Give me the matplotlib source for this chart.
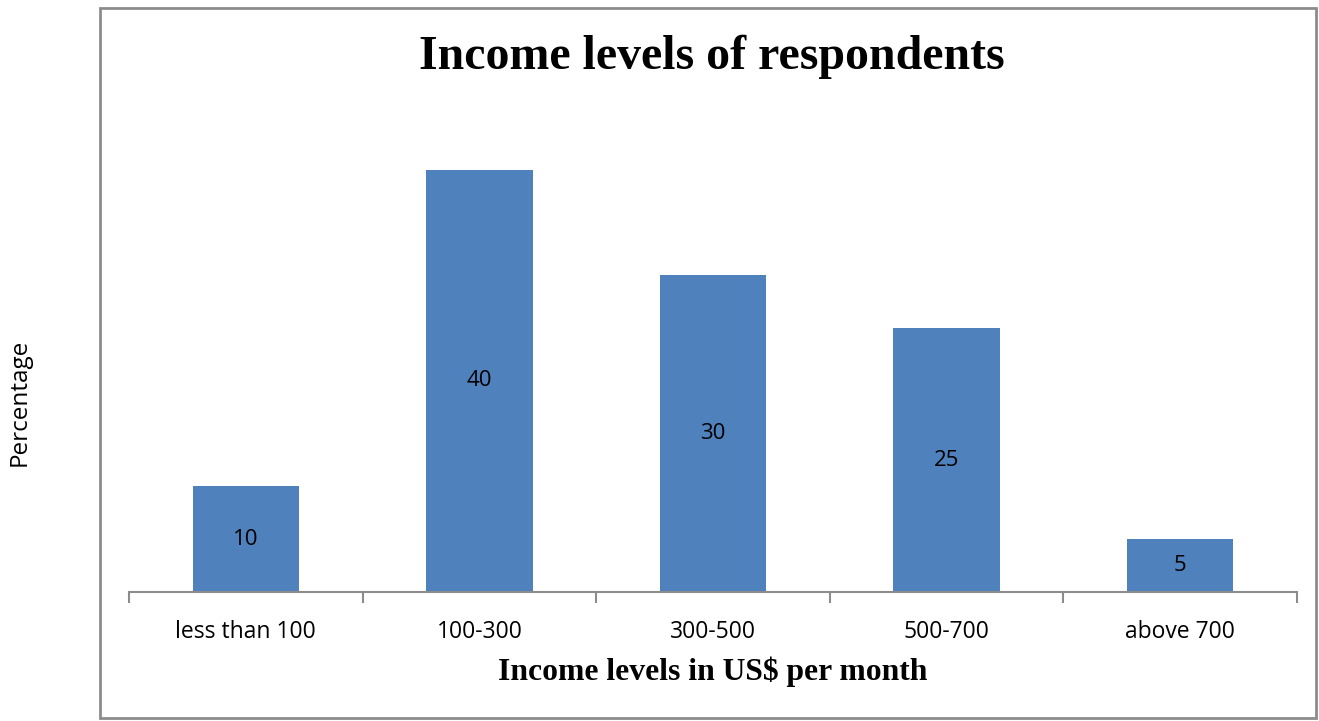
import matplotlib
matplotlib.use("Agg")
import matplotlib.pyplot as plt
from matplotlib.patches import Rectangle
import numpy as np

categories = ["less than 100", "100-300", "300-500", "500-700", "above 700"]
percentages = [10, 40, 30, 25, 5]

W, H = 1319, 721
fig = plt.figure(figsize=(W / 100, H / 100), dpi=100)

# outer chart border
fig.patches.append(Rectangle((100 / W, 3 / H), 1216 / W, 710 / H,
                             transform=fig.transFigure, fill=False,
                             edgecolor="#8c8c8c", linewidth=2))

sans = ["Open Sans", "DejaVu Sans"]

ax = fig.add_axes([129 / W, 1 - 592 / H, 1168 / W, 472 / H])
x = np.arange(len(categories))
bars = ax.bar(x, percentages, width=0.455, color="#4F81BD")

ax.set_xlim(-0.5, len(categories) - 0.5)
ax.set_ylim(0, 44.7)

for s in ["top", "right", "left"]:
    ax.spines[s].set_visible(False)
ax.spines["bottom"].set_color("#8c8c8c")
ax.spines["bottom"].set_linewidth(1.5)

ax.set_yticks([])
ax.set_xticks(x)
ax.set_xticklabels(categories, fontsize=16.5, family=sans)
ax.tick_params(axis="x", which="major", length=0, pad=20)
ax.set_xticks(np.arange(-0.5, len(categories), 1), minor=True)
ax.tick_params(axis="x", which="minor", length=8, width=1.5, color="#8c8c8c")

for b, v in zip(bars, percentages):
    ax.text(b.get_x() + b.get_width() / 2, v / 2, str(v), ha="center", va="center",
            fontsize=16, family=sans)

ax.set_xlabel("Income levels in US$ per month", fontsize=22.8, fontweight="bold",
              family="Liberation Serif", labelpad=9)

fig.text(712 / W, 1 - 57 / H, "Income levels of respondents", ha="center",
         va="center", fontsize=34.5, fontweight="bold", family="Liberation Serif")
fig.text(20 / W, 1 - 402 / H, "Percentage", rotation=90, ha="center", va="center",
         fontsize=17.5, family=sans)

fig.savefig("out.png", dpi=100)
